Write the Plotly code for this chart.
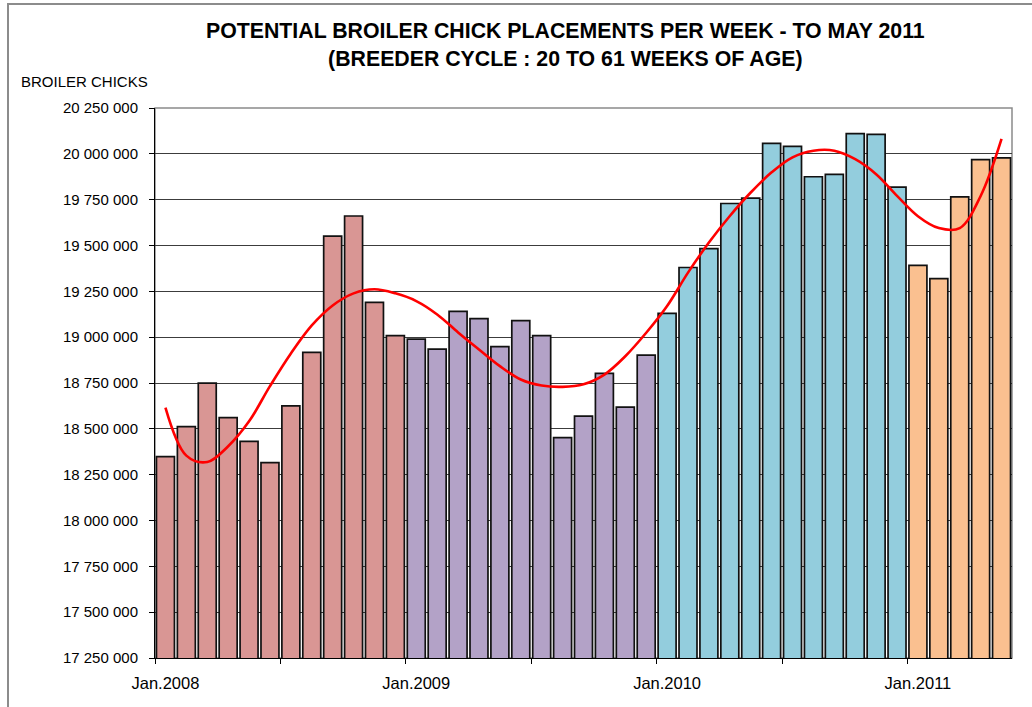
import numpy as np
import plotly.graph_objects as go

# ---------------- data ----------------
years = ["2008"] * 12 + ["2009"] * 12 + ["2010"] * 12 + ["2011"] * 5
months = [f"{y}-{m:02d}" for y in ("2008", "2009", "2010") for m in range(1, 13)] + \
         [f"2011-{m:02d}" for m in range(1, 6)]

values_2008 = [18348000, 18512000, 18749000, 18561000, 18432000, 18316000,
               18625000, 18917000, 19551000, 19661000, 19190000, 19008000]
values_2009 = [18989000, 18935000, 19141000, 19101000, 18948000, 19090000,
               19008000, 18452000, 18569000, 18802000, 18618000, 18902000]
values_2010 = [19130000, 19380000, 19483000, 19729000, 19758000, 20057000,
               20041000, 19875000, 19888000, 20110000, 20106000, 19818000]
values_2011 = [19392000, 19319000, 19765000, 19968000, 19978000]

# trend curve at each month
trend = [18616000, 18354000, 18319000, 18405000, 18541000, 18733000,
         18911000, 19064000, 19173000, 19239000, 19261000, 19239000,
         19197000, 19124000, 19026000, 18933000, 18842000, 18769000,
         18736000, 18729000, 18743000, 18796000, 18896000, 19024000,
         19170000, 19352000, 19516000, 19661000, 19789000, 19899000,
         19981000, 20017000, 20017000, 19971000, 19889000, 19771000,
         19660000, 19595000, 19595000, 19770000, 20081000]

year_ticks = ["Jan.2008", "Jan.2009", "Jan.2010", "Jan.2011"]
year_colors = {"2008": "#D99694", "2009": "#B3A2C7", "2010": "#93CDDD", "2011": "#FAC090"}

# ---------------- figure ----------------
values = values_2008 + values_2009 + values_2010 + values_2011
n = len(months)
xpos = np.arange(n) + 0.5
colors = [year_colors[y] for y in years]

FONT = "Liberation Sans, Arial, sans-serif"

fig = go.Figure()
fig.add_trace(go.Bar(
    x=xpos, y=values, marker=dict(color=colors, line=dict(color="#111111", width=1.7)),
    hoverinfo="skip", showlegend=False,
))
fig.add_trace(go.Scatter(
    x=xpos, y=trend, mode="lines", line=dict(color="#FF0000", width=2.6, shape="spline", smoothing=1.0),
    hoverinfo="skip", showlegend=False,
))

year_starts = [months.index(f"{t[-4:]}-01") for t in year_ticks]

fig.update_layout(
    width=1032, height=707,
    margin=dict(l=155, r=20, t=108, b=49),
    paper_bgcolor="white", plot_bgcolor="white",
    bargap=0.14,
    separators=". ",
    font=dict(family=FONT, color="black"),
    xaxis=dict(
        range=[0, n], tickmode="array",
        tickvals=[s + 0.5 for s in year_starts], ticktext=year_ticks,
        ticks="", showgrid=False, showline=True, linecolor="black", linewidth=1,
        tickfont=dict(size=16.5, family=FONT, color="black"),
        ticklabelstandoff=10,
        minor=dict(tickvals=list(range(0, n, 6)), ticks="outside", ticklen=5,
                   tickcolor="black", tickwidth=1, showgrid=False),
        zeroline=False,
    ),
    yaxis=dict(
        range=[17250000, 20250000], tick0=17250000, dtick=250000,
        tickformat=",d", ticks="outside", ticklen=5, tickcolor="black",
        showline=True, linecolor="black", linewidth=1,
        showgrid=True, gridcolor="#3c3c3c", gridwidth=1,
        tickfont=dict(size=15, family=FONT, color="black"),
        ticklabelstandoff=8, zeroline=False,
    ),
    shapes=[
        dict(type="rect", xref="paper", yref="paper", x0=0, x1=1, y0=0, y1=1,
             line=dict(color="#8a8a8a", width=1.5), layer="below"),
        dict(type="rect", xref="paper", yref="paper",
             x0=(8 - 155) / 857, x1=(1045 - 155) / 857,
             y0=(658 - 720) / 550, y1=(658 - 4) / 550,
             line=dict(color="#8c8c8c", width=2), layer="below"),
    ],
    annotations=[
        dict(text="POTENTIAL BROILER CHICK PLACEMENTS PER WEEK - TO MAY 2011<br>(BREEDER CYCLE : 20 TO 61 WEEKS OF AGE)",
             xref="paper", yref="paper", x=(565.5 - 155) / 857, y=(658 - 45) / 550,
             xanchor="center", yanchor="middle", showarrow=False,
             font=dict(size=21.3, family=FONT, color="black", weight="bold")),
        dict(text="BROILER CHICKS", xref="paper", yref="paper",
             x=(19 - 155) / 857, y=(658 - 82) / 550, xanchor="left", yanchor="middle",
             showarrow=False, font=dict(size=15, family=FONT, color="black")),
    ],
)

fig.write_html("out.html", config={"displayModeBar": False},
               post_script="document.body.style.margin='0';document.body.style.overflow='hidden';")
